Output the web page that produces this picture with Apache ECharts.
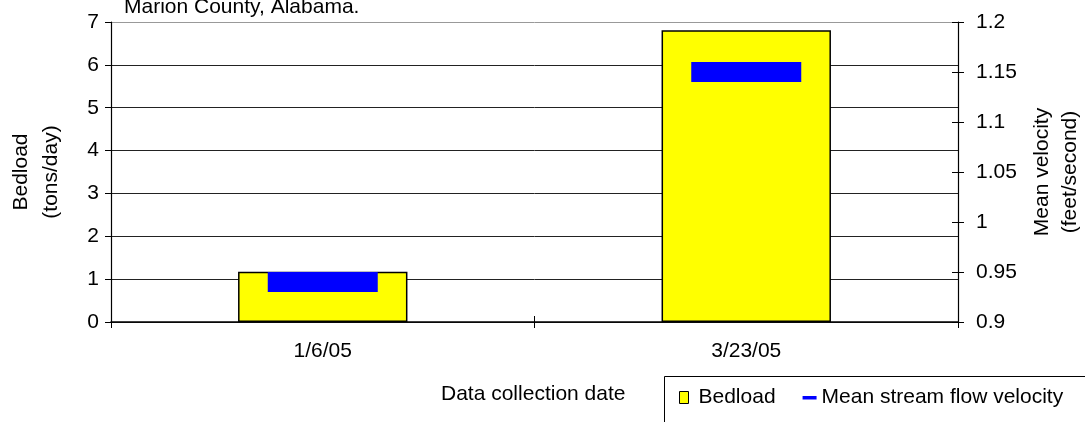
<!DOCTYPE html>
<html>
<head>
<meta charset="utf-8">
<script src="https://cdn.jsdelivr.net/npm/echarts@6/dist/echarts.min.js"></script>
<style>
  html, body { margin: 0; padding: 0; background: #fff; }
  #chart { width: 1085px; height: 422px; }
</style>
</head>
<body>
<div id="chart"></div>
<script>
// Sampling dates and measured values
const dates = ['1/6/05', '3/23/05'];
const bedload = [1.17, 6.81];            // tons/day
const meanVelocity = [0.94, 1.15];       // feet/second

// Axis ranges
const bedloadAxis = { min: 0, max: 7, interval: 1 };
const velocityAxis = { min: 0.9, max: 1.2, interval: 0.05 };

const FONT = '"Liberation Sans", Arial, sans-serif';
const TXT = { color: '#000', fontFamily: FONT, fontSize: 21 };

const chart = echarts.init(document.getElementById('chart'), null, { renderer: 'canvas' });

// tick-only axis used to let ticks cross the main axis lines
const innerTicks = {
  axisLine: { show: false },
  axisLabel: { show: false },
  splitLine: { show: false },
  axisTick: { show: true, inside: true, length: 6, lineStyle: { color: '#000' } }
};

chart.setOption({
  backgroundColor: '#fff',
  animation: false,
  grid: { left: 111, right: 127, top: 22, bottom: 100, containLabel: false, outerBoundsMode: 'none' },
  graphic: [
    {
      type: 'text', left: 124, top: -3,
      style: { text: 'Marion County, Alabama.', font: '21px ' + FONT, fill: '#000' }
    },
    {
      type: 'text', left: 441, top: 384,
      style: { text: 'Data collection date', font: '21px ' + FONT, fill: '#000' }
    },
    {
      // legend frame, running past the right and bottom edges
      type: 'rect', silent: true, z: 0,
      shape: { x: 664.5, y: 376.5, width: 500, height: 100 },
      style: { fill: '#fff', stroke: '#000', lineWidth: 1 }
    }
  ],
  legend: {
    left: 679, top: 387,
    padding: 0,
    itemWidth: 14, itemHeight: 12, itemGap: 27,
    textStyle: { ...TXT },
    data: [
      { name: 'Bedload', icon: 'path://M0,0h9v12h-9z M14,12',
        itemStyle: { color: '#ffff00', borderColor: '#000', borderWidth: 1 } },
      { name: 'Mean stream flow velocity', icon: 'path://M0,4.5h14v3.5h-14z M0,0 M14,12',
        itemStyle: { color: '#0000ff', borderWidth: 0 } }
    ]
  },
  xAxis: [
    {
      type: 'category',
      data: dates,
      boundaryGap: true,
      axisLine: { lineStyle: { color: '#000', width: 1.5 } },
      axisTick: { show: true, length: 6, lineStyle: { color: '#000' } },
      axisLabel: { ...TXT, margin: 19 },
      splitLine: { show: false }
    },
    {
      type: 'category', position: 'bottom',
      data: dates, boundaryGap: true,
      ...innerTicks
    }
  ],
  yAxis: [
    {
      type: 'value', position: 'left',
      min: bedloadAxis.min, max: bedloadAxis.max, interval: bedloadAxis.interval,
      name: 'Bedload\n(tons/day)', nameLocation: 'middle', nameRotate: 90, nameGap: 45,
      nameTextStyle: { ...TXT, lineHeight: 30 },
      axisLine: { show: true, lineStyle: { color: '#000', width: 1.2 } },
      axisTick: { show: true, length: 6, lineStyle: { color: '#000' } },
      axisLabel: { ...TXT, margin: 12 },
      splitLine: {
        show: true,
        lineStyle: { color: ['#222', '#222', '#222', '#222', '#222', '#222', '#222', '#999'], width: 1 }
      }
    },
    {
      type: 'value', position: 'right',
      min: velocityAxis.min, max: velocityAxis.max, interval: velocityAxis.interval,
      name: 'Mean velocity\n(feet/second)', nameLocation: 'middle', nameRotate: 90, nameGap: 58,
      nameTextStyle: { ...TXT, lineHeight: 28 },
      axisLine: { show: true, lineStyle: { color: '#000', width: 1.2 } },
      axisTick: { show: true, length: 6, lineStyle: { color: '#000' } },
      axisLabel: { ...TXT, margin: 18 },
      splitLine: { show: false }
    },
    {
      type: 'value', position: 'right',
      min: velocityAxis.min, max: velocityAxis.max, interval: velocityAxis.interval,
      ...innerTicks
    }
  ],
  series: [
    {
      name: 'Bedload',
      type: 'bar',
      xAxisIndex: 0,
      yAxisIndex: 0,
      data: bedload,
      barWidth: '40%',
      itemStyle: { color: '#ffff00', borderColor: '#000', borderWidth: 1.5 },
      z: 2
    },
    {
      name: 'Mean stream flow velocity',
      type: 'scatter',
      xAxisIndex: 0,
      yAxisIndex: 1,
      data: meanVelocity,
      symbol: 'rect',
      symbolSize: [110, 20],
      itemStyle: { color: '#0000ff', opacity: 1 },
      z: 3
    }
  ]
});
</script>
</body>
</html>
